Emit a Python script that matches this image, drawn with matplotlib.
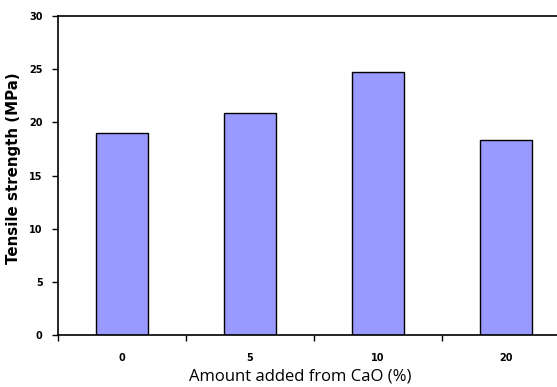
import matplotlib
matplotlib.use('Agg')
import matplotlib.pyplot as plt
import numpy as np

# Tensile strength vs CaO content
categories = ['0', '5', '10', '20']
strength = [19.0, 20.85, 24.7, 18.3]
y_ticks = [0, 5, 10, 15, 20, 25, 30]

fig = plt.figure(figsize=(5.57, 3.87), dpi=100)
ax = fig.add_axes([58 / 557, 52 / 387, 512 / 557, 319 / 387])

x = np.arange(len(categories))
ax.bar(x, strength, width=0.4, color='#9999FF', edgecolor='black', linewidth=1.0, zorder=2)

ax.set_xlim(-0.5, len(categories) - 0.5)
ax.set_ylim(0, 30)

# tick marks sit between categories, labels at the centres
ax.set_xticks(np.arange(-0.5, len(categories)), labels=[''] * (len(categories) + 1))
ax.set_xticks(x, labels=categories, minor=True)
ax.tick_params(axis='x', which='major', direction='out', length=4, width=1)
ax.tick_params(axis='x', which='minor', length=0, pad=13)
ax.set_yticks(y_ticks)
ax.tick_params(axis='y', direction='out', length=4, width=1, pad=7)

for lab in ax.get_xticklabels(minor=True) + ax.get_yticklabels():
    lab.set_fontsize(7)
    lab.set_fontweight('bold')
    lab.set_fontfamily('Liberation Sans Narrow')

for side in ['top', 'left', 'bottom']:
    ax.spines[side].set_linewidth(1.2)
ax.spines['right'].set_visible(False)

ax.set_ylabel('Tensile strength (MPa)', fontsize=10.8, fontweight='bold', family='DejaVu Sans')
ax.yaxis.set_label_coords(-0.072, 0.523)
ax.set_xlabel('Amount added from CaO (%)', fontsize=12, family='Open Sans')
ax.xaxis.set_label_coords(0.4727, -0.104)

fig.savefig('out.png', dpi=100)
